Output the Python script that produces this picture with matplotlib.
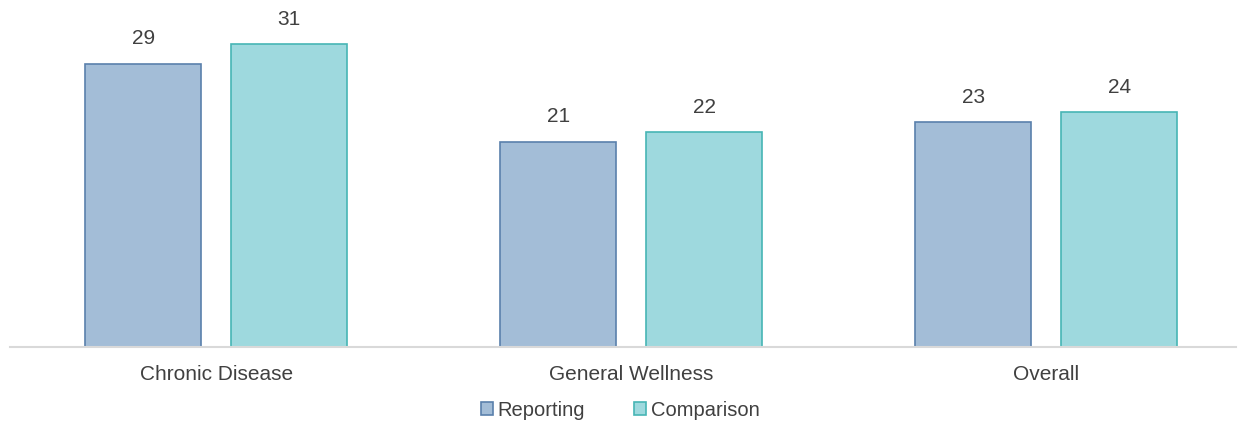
import matplotlib.pyplot as plt
import numpy as np

categories = ["Chronic Disease", "General Wellness", "Overall"]
reporting = [29, 21, 23]
comparison = [31, 22, 24]

plt.rcParams['font.family'] = ['Liberation Sans', 'DejaVu Sans']

fig = plt.figure(figsize=(12.46, 4.23), dpi=100)
ax = fig.add_axes([10 / 1246, 76 / 423, 1226 / 1246, 347 / 423])

x = np.arange(len(categories))
w = 0.28
off = 0.176
b1 = ax.bar(x - off, reporting, w, color='#A3BDD7', edgecolor='#5A80AC', linewidth=1.2, label='Reporting')
b2 = ax.bar(x + off, comparison, w, color='#9ED9DE', edgecolor='#47B5B5', linewidth=1.2, label='Comparison')

for bars, vals in ((b1, reporting), (b2, comparison)):
    for b, v in zip(bars, vals):
        ax.annotate(str(v), (b.get_x() + b.get_width() / 2, v), xytext=(0, 11),
                    textcoords='offset points', ha='center', va='bottom',
                    fontsize=15, color='#404040')

ax.set_xlim(-0.497, 2.457)
ax.set_ylim(0, 35.5)
ax.set_xticks(x)
ax.set_xticklabels(categories, fontsize=15, color='#404040')
ax.tick_params(axis='x', length=0, pad=13)
ax.set_yticks([])
for s in ['top', 'right', 'left']:
    ax.spines[s].set_visible(False)
ax.spines['bottom'].set_color('#D9D9D9')
ax.spines['bottom'].set_linewidth(1.5)

fig.legend(loc='center', bbox_to_anchor=(620 / 1246, 1 - 410 / 423), ncol=2, frameon=False,
           fontsize=14.5, labelcolor='#404040', handlelength=0.6, handleheight=0.6,
           handletextpad=0.25, columnspacing=2.4)

fig.savefig('out.png', dpi=100)
